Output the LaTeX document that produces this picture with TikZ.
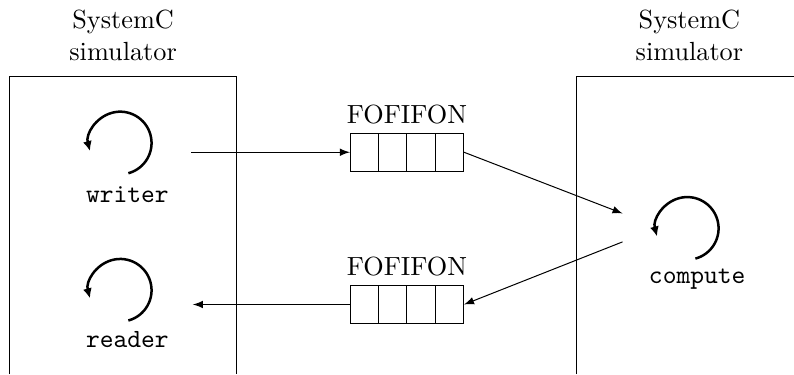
\documentclass[tikz,border=0pt]{standalone}
\usepackage{tikz}
\usetikzlibrary{calc,positioning,arrows.meta}

\begin{document}
\begin{tikzpicture}[
  every node/.style={font=\fontsize{10.5}{12.6}\selectfont},
  fifo/.style={draw,minimum width=1.59cm,minimum height=0.53cm,inner sep=0pt},
  loopy/.style={line width=1pt,-{Latex[length=4pt,width=3.6pt]}},
  chan/.style={-latex}]

% Parameters
\def\r{0.44}      % loop radius
\def\ytop{4.18}   % top of the simulator boxes

\useasboundingbox (0,0) rectangle (11.16,5.26);

% Simulator boxes (cut by the page edges)
\draw (0.14,0) |- (3.32,\ytop) -- (3.32,0);
\draw (8.10,0) |- (11.16,\ytop);
\node[align=center] (simL) at (1.73,4.76) {SystemC\\simulator};
\node[align=center] (simR) at (9.69,4.76) {SystemC\\simulator};

% Processes
\node[anchor=base] (writer) at (1.79,2.42) {\texttt{writer}};
\node[anchor=base] (reader) at (1.79,0.38) {\texttt{reader}};
\node[anchor=base] (compute) at (9.80,1.28) {\texttt{compute}};

% Loops
\draw[loopy] (1.69,3.25) ++(-75:\r) arc (-75:195:\r);
\draw[loopy] (1.69,1.18) ++(-75:\r) arc (-75:195:\r);
\draw[loopy] (9.66,2.05) ++(-75:\r) arc (-75:195:\r);

% FIFOs
\node[fifo] (fifoA) at (5.72,3.12) {};
\node[fifo] (fifoB) at (5.72,0.98) {};
\node[above=0pt of fifoA] (fifoAlbl) {FOFIFON};
\node[above=0pt of fifoB] (fifoBlbl) {FOFIFON};
\foreach \f in {fifoA,fifoB}
  \foreach \i in {1,2,3}
    \draw ($(\f.south west)!\i/4!(\f.south east)$) -- ($(\f.north west)!\i/4!(\f.north east)$);

% Channels
\coordinate (wout) at (2.69,3.12);
\coordinate (cin) at (8.75,2.26);
\coordinate (cout) at (8.75,1.86);
\coordinate (rin) at (2.71,0.98);
\draw[chan] (wout) -- (fifoA.west);
\draw[chan] (fifoA.east) -- (cin);
\draw[chan] (cout) -- (fifoB.east);
\draw[chan] (fifoB.west) -- (rin);

\end{tikzpicture}
\end{document}
